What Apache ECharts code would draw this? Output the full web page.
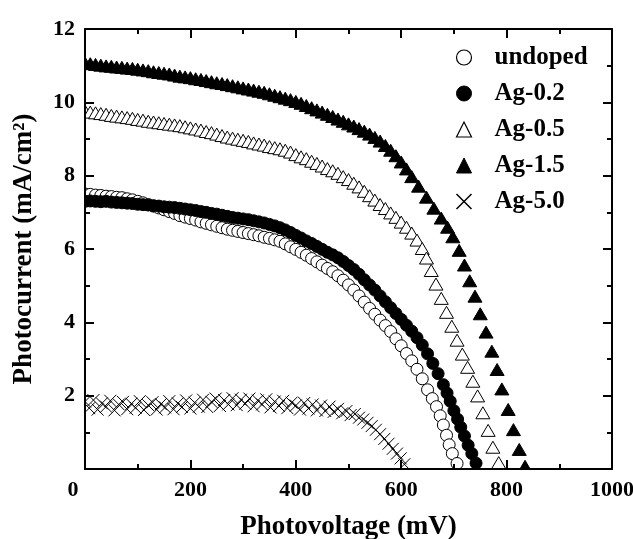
<!DOCTYPE html>
<html><head><meta charset="utf-8">
<script src="https://cdn.jsdelivr.net/npm/echarts@6/dist/echarts.min.js"></script>
<style>html,body{margin:0;padding:0;background:#fff}#c{width:633px;height:539px}</style>
</head><body><div id="c"></div>
<script>
// ---- data (photovoltage mV, photocurrent mA/cm2) ----
const seriesNames = ['undoped', 'Ag-0.2', 'Ag-0.5', 'Ag-1.5', 'Ag-5.0'];
const xTickValues = [0, 200, 400, 600, 800, 1000];
const yTickValues = [2, 4, 6, 8, 10, 12];

const undopedV = [0,10,20,30,40,50,60,70,80,90,100,110,120,130,140,150,160,170,180,190,200,210,220,230,240,250,260,270,280,290,300,310,320,330,340,350,360,370,380,390,400,410,420,430,440,450,460,470,480,490,500,510,520,530,540,550,560,570,580,590,600,610,620,630,640,650,659,667,674,680,686,691,697,706];
const undopedI = [7.50,7.49,7.47,7.46,7.44,7.43,7.41,7.40,7.37,7.34,7.30,7.26,7.21,7.17,7.12,7.07,7.02,6.97,6.91,6.87,6.83,6.79,6.74,6.70,6.66,6.62,6.58,6.54,6.51,6.48,6.45,6.42,6.39,6.36,6.32,6.29,6.25,6.21,6.14,6.06,5.99,5.91,5.83,5.74,5.65,5.56,5.47,5.38,5.27,5.15,5.02,4.88,4.72,4.55,4.38,4.22,4.06,3.91,3.75,3.55,3.36,3.15,2.95,2.72,2.46,2.16,1.92,1.70,1.45,1.20,0.92,0.66,0.42,0.15];

const ag02V = [0,10,20,30,40,50,60,70,80,90,100,110,120,130,140,150,160,170,180,190,200,210,220,230,240,250,260,270,280,290,300,310,320,330,340,350,360,370,380,390,400,410,420,430,440,450,460,470,480,490,500,510,520,530,540,550,560,570,580,590,600,610,620,630,640,650,660,670,680,687,693,700,707,713,720,727,734,742];
const ag02I = [7.30,7.31,7.30,7.29,7.30,7.28,7.27,7.26,7.25,7.24,7.22,7.21,7.20,7.18,7.17,7.15,7.14,7.13,7.11,7.09,7.07,7.05,7.02,7.00,6.97,6.95,6.92,6.89,6.86,6.84,6.82,6.80,6.77,6.74,6.71,6.67,6.63,6.58,6.52,6.45,6.37,6.30,6.22,6.15,6.07,5.99,5.91,5.84,5.76,5.66,5.55,5.44,5.31,5.16,5.02,4.88,4.72,4.56,4.40,4.24,4.08,3.92,3.76,3.58,3.38,3.14,2.88,2.60,2.30,2.07,1.85,1.59,1.36,1.14,0.90,0.65,0.42,0.16];

const ag05V = [0,10,20,30,40,50,60,70,80,90,100,110,120,130,140,150,160,170,180,190,200,210,220,230,240,250,260,270,280,290,300,310,320,330,340,350,360,370,380,390,400,410,420,430,440,450,460,470,480,490,500,510,520,530,540,550,560,570,580,590,600,610,620,630,640,648,657,666,676,686,696,706,716,726,736,745,755,765,774,785];
const ag05I = [9.75,9.72,9.70,9.68,9.66,9.63,9.61,9.59,9.57,9.55,9.52,9.50,9.47,9.45,9.43,9.41,9.39,9.37,9.35,9.32,9.29,9.26,9.23,9.19,9.16,9.12,9.08,9.04,9.01,8.98,8.95,8.92,8.88,8.85,8.82,8.78,8.75,8.72,8.68,8.63,8.56,8.50,8.45,8.38,8.32,8.25,8.18,8.12,8.05,7.96,7.88,7.78,7.68,7.56,7.44,7.32,7.20,7.09,6.97,6.85,6.72,6.58,6.42,6.23,6.00,5.74,5.40,5.03,4.64,4.26,3.88,3.50,3.12,2.76,2.38,1.98,1.52,1.04,0.58,0.16];

const ag15V = [0,10,20,30,40,50,60,70,80,90,100,110,120,130,140,150,160,170,180,190,200,210,220,230,240,250,260,270,280,290,300,310,320,330,340,350,360,370,380,390,400,410,420,430,440,450,460,470,480,490,500,510,520,530,540,550,560,570,580,590,600,610,620,633,648,662,676,688,698,710,720,730,740,750,761,772,782,791,803,813,824,835];
const ag15I = [11.06,11.04,11.02,11.00,10.98,10.97,10.95,10.94,10.92,10.91,10.89,10.87,10.85,10.82,10.80,10.78,10.76,10.73,10.70,10.68,10.66,10.63,10.61,10.58,10.55,10.52,10.50,10.47,10.44,10.41,10.38,10.35,10.32,10.29,10.26,10.22,10.18,10.14,10.10,10.06,10.01,9.96,9.90,9.84,9.78,9.72,9.66,9.60,9.53,9.47,9.40,9.34,9.27,9.20,9.12,9.03,8.93,8.81,8.68,8.53,8.36,8.17,7.96,7.70,7.40,7.10,6.83,6.58,6.32,5.95,5.55,5.12,4.70,4.22,3.72,3.20,2.70,2.17,1.61,1.06,0.52,0.06];

const ag50V = [0,8,16,24,32,40,48,56,64,72,80,88,96,104,112,120,128,136,144,152,160,168,176,184,192,200,208,216,224,232,240,248,256,264,272,280,288,296,304,312,320,328,336,344,352,360,368,376,384,392,400,408,416,424,432,440,448,456,464,472,480,488,496,504,512,520,528,536,544,552,560,568,576,584,592,599,606];
const ag50I = [1.84,1.66,1.88,1.62,1.79,1.70,1.86,1.60,1.76,1.83,1.63,1.78,1.67,1.85,1.61,1.74,1.82,1.62,1.77,1.68,1.85,1.63,1.79,1.69,1.87,1.65,1.81,1.70,1.89,1.69,1.83,1.92,1.72,1.88,1.76,1.93,1.74,1.89,1.78,1.92,1.71,1.87,1.76,1.90,1.68,1.84,1.72,1.86,1.66,1.81,1.73,1.62,1.80,1.65,1.76,1.60,1.73,1.58,1.70,1.56,1.64,1.52,1.58,1.47,1.50,1.40,1.35,1.26,1.17,1.07,0.95,0.82,0.69,0.55,0.42,0.29,0.13];

// ---- chart ----
const FONT = "'Liberation Serif','Times New Roman',serif";
const zip = (v, i) => v.map((x, k) => [x, i[k]]);

function marker(kind) {
  return function (params, api) {
    const p = api.coord([api.value(0), api.value(1)]);
    const x = p[0], y = p[1];
    if (kind === 'circle' || kind === 'dot') {
      return { type: 'circle', shape: { cx: x, cy: y, r: 6 },
        style: { fill: kind === 'dot' ? '#000' : '#fff', stroke: '#000', lineWidth: 1 } };
    }
    if (kind === 'tri' || kind === 'triF') {
      return { type: 'polygon', shape: { points: [[x, y - 6.5], [x + 7, y + 5.5], [x - 7, y + 5.5]] },
        style: { fill: kind === 'triF' ? '#000' : '#fff', stroke: '#000', lineWidth: 1 } };
    }
    return { type: 'group', children: [
      { type: 'line', shape: { x1: x - 6, y1: y - 6, x2: x + 6, y2: y + 6 }, style: { stroke: '#000', lineWidth: 1 } },
      { type: 'line', shape: { x1: x - 6, y1: y + 6, x2: x + 6, y2: y - 6 }, style: { stroke: '#000', lineWidth: 1 } }
    ] };
  };
}

const seriesDefs = [
  { name: seriesNames[0], data: zip(undopedV, undopedI), kind: 'circle', fill: '#fff' },
  { name: seriesNames[1], data: zip(ag02V, ag02I), kind: 'dot', fill: '#000' },
  { name: seriesNames[2], data: zip(ag05V, ag05I), kind: 'tri', fill: '#fff' },
  { name: seriesNames[3], data: zip(ag15V, ag15I), kind: 'triF', fill: '#000' },
  { name: seriesNames[4], data: zip(ag50V, ag50I), kind: 'cross', fill: 'none' }
];

const labelStyle = { fontFamily: FONT, fontWeight: 'bold', fontSize: 22, color: '#000' };
const nameStyle = { fontFamily: FONT, fontWeight: 'bold', fontSize: 27, color: '#000' };
const axisCommon = {
  type: 'value', min: 0,
  axisLine: { show: true, onZero: false, lineStyle: { color: '#000', width: 2 } },
  axisTick: { show: true, inside: true, length: 9, lineStyle: { color: '#000', width: 2 } },
  minorTick: { show: true, splitNumber: 2, length: 5, lineStyle: { color: '#000', width: 2 } },
  splitLine: { show: false },
  z: 5
};

const option = {
  animation: false,
  backgroundColor: '#fff',
  grid: { left: 85, right: 21, top: 29, bottom: 70, containLabel: false, outerBoundsMode: 'none' },
  xAxis: [
    Object.assign({}, axisCommon, {
      position: 'bottom', max: 1000, interval: 200,
      name: 'Photovoltage (mV)', nameLocation: 'middle', nameGap: 45,
      nameTextStyle: nameStyle,
      axisLabel: Object.assign({}, labelStyle, {
        margin: 10,
        formatter: v => (v === 0 ? '{z|0}' : (xTickValues.indexOf(v) >= 0 ? String(v) : '')),
        rich: { z: Object.assign({}, labelStyle, { padding: [0, 24, 0, 0] }) }
      })
    }),
    Object.assign({}, axisCommon, { position: 'top', max: 1000, interval: 200, axisLabel: { show: false } })
  ],
  yAxis: [
    Object.assign({}, axisCommon, {
      position: 'left', max: 12, interval: 2,
      name: 'Photocurrent (mA/cm²)', nameLocation: 'middle', nameGap: 47,
      nameTextStyle: nameStyle,
      axisLabel: Object.assign({}, labelStyle, {
        margin: 10,
        formatter: v => (yTickValues.indexOf(v) >= 0 ? String(v) : '')
      })
    }),
    Object.assign({}, axisCommon, { position: 'right', max: 12, interval: 2, axisLabel: { show: false } })
  ],
  legend: {
    orient: 'vertical', left: 449, top: 40, itemWidth: 15, itemHeight: 15, itemGap: 11,
    selectedMode: false,
    textStyle: { fontFamily: FONT, fontWeight: 'bold', fontSize: 25, color: '#000', padding: [0, 0, 0, 18] },
    data: [
      { name: seriesNames[0], icon: 'circle', itemStyle: { color: '#fff', borderColor: '#000', borderWidth: 1.2 } },
      { name: seriesNames[1], icon: 'circle', itemStyle: { color: '#000', borderColor: '#000', borderWidth: 1 } },
      { name: seriesNames[2], icon: 'triangle', itemStyle: { color: '#fff', borderColor: '#000', borderWidth: 1.2 } },
      { name: seriesNames[3], icon: 'triangle', itemStyle: { color: '#000', borderColor: '#000', borderWidth: 1 } },
      { name: seriesNames[4], icon: 'path://M0,0L10,10M0,10L10,0', itemStyle: { color: 'none', borderColor: '#000', borderWidth: 1.5 } }
    ]
  },
  series: seriesDefs.map(s => ({
    type: 'custom', name: s.name, clip: true,
    itemStyle: { color: s.fill, borderColor: '#000' },
    encode: { x: 0, y: 1 },
    renderItem: marker(s.kind),
    data: s.data
  }))
};

const chart = echarts.init(document.getElementById('c'), null, { renderer: 'canvas' });
chart.setOption(option);
</script>
</body></html>
